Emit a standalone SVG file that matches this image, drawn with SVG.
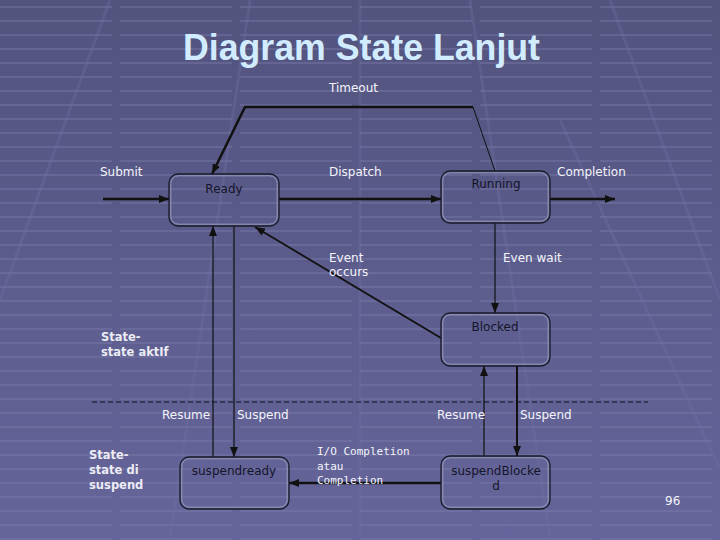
<svg xmlns="http://www.w3.org/2000/svg" width="720" height="540" viewBox="0 0 720 540">
<defs>
<linearGradient id="bg" x1="0" y1="0" x2="0" y2="1">
<stop offset="0" stop-color="#53537e"/>
<stop offset="1" stop-color="#65659b"/>
</linearGradient>
<pattern id="grid" width="120" height="14" patternUnits="userSpaceOnUse" y="6">
<line x1="0" y1="1" x2="112" y2="1" stroke="#7c7cac" stroke-width="1.6" opacity="0.55"/>
</pattern>
<marker id="ah" markerWidth="10" markerHeight="8" refX="10" refY="4" orient="auto" markerUnits="userSpaceOnUse">
<path d="M0,0 L10,4 L0,8 z" fill="#111"/>
</marker>
<style>
.lbl{font-family:"DejaVu Sans","Liberation Sans",sans-serif;font-size:12px;fill:#f4f4fa}
.mono{font-family:"DejaVu Sans Mono","Liberation Mono",monospace;font-size:11px;fill:#f4f4fa}
.bold{font-family:"DejaVu Sans","Liberation Sans",sans-serif;font-size:11.5px;font-weight:bold;fill:#ececf4}
.nt{font-family:"DejaVu Sans","Liberation Sans",sans-serif;font-size:12px;fill:#15152a;text-anchor:middle}
.box{fill:none;stroke:#1a1a2a;stroke-width:1.3}
.rim{fill:none;stroke:#9a9abb;stroke-width:1}
.c{fill:none;stroke:#111}
</style>
</defs>
<rect width="720" height="540" fill="url(#bg)"/>
<rect width="720" height="540" fill="url(#grid)"/>
<g stroke="#7070a4" stroke-width="3" opacity="0.35" fill="none">
<line x1="110" y1="0" x2="0" y2="300"/>
<line x1="250" y1="0" x2="170" y2="540"/>
<line x1="360" y1="0" x2="360" y2="540"/>
<line x1="470" y1="0" x2="550" y2="540"/>
<line x1="610" y1="0" x2="720" y2="300"/>
<line x1="560" y1="120" x2="720" y2="470"/>
</g>
<text x="361.5" y="60" text-anchor="middle" font-family="Liberation Sans, Arial, sans-serif" font-weight="bold" font-size="36" textLength="357" lengthAdjust="spacingAndGlyphs" fill="#d2ecff">Diagram State Lanjut</text>

<g id="connectors">
<line class="c" x1="103" y1="199" x2="169" y2="199" stroke-width="2.5" marker-end="url(#ah)"/>
<line class="c" x1="279" y1="199" x2="441" y2="199" stroke-width="2.5" marker-end="url(#ah)"/>
<polyline class="c" points="473,107 245,107 212,174" stroke-width="2.5" marker-end="url(#ah)"/>
<line class="c" x1="473" y1="107" x2="495" y2="171" stroke-width="1"/>
<line class="c" x1="550" y1="199" x2="615" y2="199" stroke-width="2.5" marker-end="url(#ah)"/>
<line class="c" x1="495" y1="223" x2="495" y2="313" stroke-width="1.2" marker-end="url(#ah)"/>
<line class="c" x1="441" y1="338" x2="255" y2="227" stroke-width="1.8" marker-end="url(#ah)"/>
<line class="c" x1="213" y1="457" x2="213" y2="226" stroke-width="1.2" marker-end="url(#ah)"/>
<line class="c" x1="234" y1="226" x2="234" y2="457" stroke-width="1.2" marker-end="url(#ah)"/>
<line class="c" x1="484" y1="456" x2="484" y2="366" stroke-width="1.2" marker-end="url(#ah)"/>
<line class="c" x1="517" y1="366" x2="517" y2="456" stroke-width="2" marker-end="url(#ah)"/>
<line class="c" x1="441" y1="483" x2="289" y2="483" stroke-width="2.5" marker-end="url(#ah)"/>
<line x1="92" y1="402" x2="648" y2="402" stroke="#111" stroke-width="1" stroke-dasharray="5,3"/>
</g>

<g id="ready">
<rect class="box" x="169" y="174" width="110" height="52" rx="9"/>
<rect class="rim" x="170.8" y="175.8" width="106.4" height="48.4" rx="7.5"/>
<text class="nt" x="224" y="193" font-size="13">Ready</text>
</g>
<g id="running">
<rect class="box" x="441" y="171" width="109" height="52" rx="9"/>
<rect class="rim" x="442.8" y="172.8" width="105.4" height="48.4" rx="7.5"/>
<text class="nt" x="496" y="188" font-size="11.5">Running</text>
</g>
<g id="blocked">
<rect class="box" x="441" y="313" width="109" height="53" rx="9"/>
<rect class="rim" x="442.8" y="314.8" width="105.4" height="49.4" rx="7.5"/>
<text class="nt" x="495" y="331" font-size="11.5">Blocked</text>
</g>
<g id="suspendready">
<rect class="box" x="180" y="457" width="109" height="52" rx="9"/>
<rect class="rim" x="181.8" y="458.8" width="105.4" height="48.4" rx="7.5"/>
<text class="nt" x="234" y="475" font-size="11.8">suspendready</text>
</g>
<g id="suspendblocked">
<rect class="box" x="441" y="456" width="109" height="53" rx="9"/>
<rect class="rim" x="442.8" y="457.8" width="105.4" height="49.4" rx="7.5"/>
<text class="nt" x="496" y="475">suspendBlocke</text>
<text class="nt" x="496" y="490">d</text>
</g>

<g id="labels">
<text class="lbl" x="329" y="92">Timeout</text>
<text class="lbl" x="100" y="176">Submit</text>
<text class="lbl" x="329" y="176">Dispatch</text>
<text class="lbl" x="557" y="176">Completion</text>
<text class="lbl" x="329" y="262">Event</text>
<text class="lbl" x="329" y="276">occurs</text>
<text class="lbl" x="503" y="262">Even wait</text>
<text class="lbl" x="162" y="419">Resume</text>
<text class="lbl" x="237" y="419">Suspend</text>
<text class="lbl" x="437" y="419">Resume</text>
<text class="lbl" x="520" y="419">Suspend</text>
<text class="mono" x="317" y="455">I/O Completion</text>
<text class="mono" x="317" y="470">atau</text>
<text class="mono" x="317" y="484">Completion</text>
<text class="bold" x="101" y="341">State-</text>
<text class="bold" x="101" y="356">state aktIf</text>
<text class="bold" x="89" y="459">State-</text>
<text class="bold" x="89" y="474">state di</text>
<text class="bold" x="89" y="489">suspend</text>
<text class="lbl" x="665" y="505" font-size="10">96</text>
</g>
</svg>
